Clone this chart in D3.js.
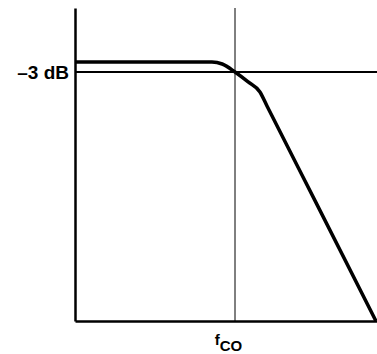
<!DOCTYPE html>
<html lang="en">
<head>
    <meta charset="UTF-8">
    <title>Low-pass response</title>
    <script src="https://cdnjs.cloudflare.com/ajax/libs/d3/7.8.5/d3.min.js"></script>
    <style>
        body {
            margin: 0;
            background: white;
        }
        .axis text {
            font-family: 'Liberation Sans', Arial, sans-serif;
            font-weight: bold;
            fill: black;
        }
        .axis path {
            stroke: black;
            stroke-width: 2.5;
        }
    </style>
</head>
<body>
    <div id="chart"></div>

    <script>
        // frequency relative to cutoff (f / fco), gain in dB
        const freqs = [0, 0.856, 0.92, 1.0, 1.08, 1.156, 1.2, 1.5, 1.881];
        const gainDb = [0, 0, -0.6, -3, -5.9, -9, -13.2, -41.6, -77.7];
        const cutoffFreq = 1.0;
        const cutoffGain = -3;
        const xDomain = [0, 1.8875];
        const yDomain = [-77.7, 16.2];

        const width = 377, height = 354;
        const margin = { top: 8, right: 0, bottom: 33, left: 75 };

        const svg = d3.select("#chart")
            .append("svg")
            .attr("width", width)
            .attr("height", height);

        const x = d3.scaleLinear()
            .domain(xDomain)
            .range([margin.left, width - margin.right]);

        const y = d3.scaleLinear()
            .domain(yDomain)
            .range([height - margin.bottom, margin.top]);

        // cutoff frequency marker
        svg.append("line")
            .attr("x1", x(cutoffFreq))
            .attr("x2", x(cutoffFreq))
            .attr("y1", y(yDomain[0]))
            .attr("y2", y(yDomain[1]))
            .attr("stroke", "black")
            .attr("stroke-width", 1);

        // -3 dB reference line
        svg.append("line")
            .attr("x1", x(xDomain[0]))
            .attr("x2", x(xDomain[1]))
            .attr("y1", y(cutoffGain))
            .attr("y2", y(cutoffGain))
            .attr("stroke", "black")
            .attr("stroke-width", 2);

        // response curve
        const line = d3.line()
            .x((d, i) => x(freqs[i]))
            .y(d => y(d))
            .curve(d3.curveMonotoneX);

        svg.append("path")
            .datum(gainDb)
            .attr("fill", "none")
            .attr("stroke", "black")
            .attr("stroke-width", 3.5)
            .attr("d", line);

        // y axis with the -3 dB label
        const yAxis = svg.append("g")
            .attr("class", "axis")
            .attr("transform", `translate(${margin.left},0)`)
            .call(d3.axisLeft(y)
                .tickValues([cutoffGain])
                .tickFormat(() => "\u20133 dB")
                .tickSize(0)
                .tickPadding(6));
        yAxis.selectAll("text").style("font-size", "19px");

        // x axis with the fco label
        const xAxis = svg.append("g")
            .attr("class", "axis")
            .attr("transform", `translate(0,${height - margin.bottom})`)
            .call(d3.axisBottom(x)
                .tickValues([cutoffFreq])
                .tickSize(0));
        const lbl = xAxis.selectAll("text")
            .text(null)
            .attr("y", 24)
            .attr("dy", 0)
            .attr("dx", -7)
            .style("font-size", "15px");
        lbl.append("tspan").text("f");
        lbl.append("tspan")
            .attr("dy", 6)
            .style("font-size", "15px")
            .text("CO");
    </script>
</body>
</html>
